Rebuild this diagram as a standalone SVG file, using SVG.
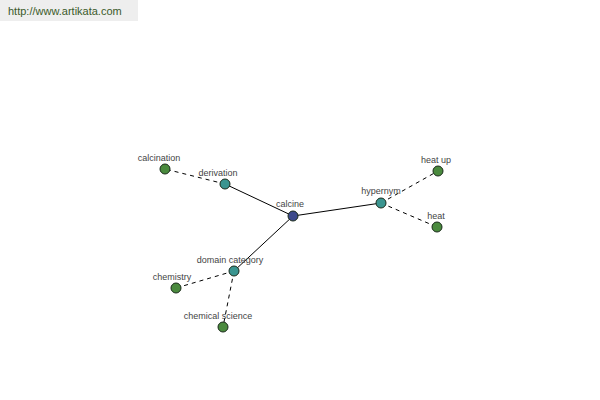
<svg xmlns="http://www.w3.org/2000/svg" width="600" height="400" viewBox="0 0 600 400">
<style>
.lbl{font-family:"Liberation Sans",Arial,sans-serif;font-size:9px;fill:#444;text-anchor:middle}
.solid{stroke:#000;stroke-width:1;fill:none}
.dash{stroke:#000;stroke-width:1;fill:none;stroke-dasharray:4,4}
.n circle{stroke:#1a2a1a;stroke-width:1}
.root{fill:#3d4a8c}
.mid{fill:#3a9590}
.leaf{fill:#4a8a3e}
</style>
<rect x="0" y="0" width="138" height="21" fill="#eeeeee"/>
<text x="8" y="15" font-family="'Liberation Sans',Arial,sans-serif" font-size="11" fill="#3a5a2a">http://www.artikata.com</text>
<g id="connectors">
<line class="solid" x1="293" y1="216" x2="225" y2="184"/>
<line class="solid" x1="293" y1="216" x2="381" y2="203"/>
<line class="solid" x1="293" y1="216" x2="234" y2="271"/>
<line class="dash" x1="225" y1="184" x2="165" y2="169"/>
<line class="dash" x1="381" y1="203" x2="438" y2="171"/>
<line class="dash" x1="381" y1="203" x2="437" y2="227"/>
<line class="dash" x1="234" y1="271" x2="176" y2="288"/>
<line class="dash" x1="234" y1="271" x2="223" y2="327"/>
</g>
<g id="calcine" class="n"><circle class="root" cx="293" cy="216" r="5"/><text class="lbl" x="290" y="207">calcine</text></g>
<g id="derivation" class="n"><circle class="mid" cx="225" cy="184" r="5"/><text class="lbl" x="218" y="176">derivation</text></g>
<g id="calcination" class="n"><circle class="leaf" cx="165" cy="169" r="5"/><text class="lbl" x="159" y="161">calcination</text></g>
<g id="hypernym" class="n"><circle class="mid" cx="381" cy="203" r="5"/><text class="lbl" x="381" y="194">hypernym</text></g>
<g id="heat_up" class="n"><circle class="leaf" cx="438" cy="171" r="5"/><text class="lbl" x="436" y="163">heat up</text></g>
<g id="heat" class="n"><circle class="leaf" cx="437" cy="227" r="5"/><text class="lbl" x="436" y="219">heat</text></g>
<g id="domain_category" class="n"><circle class="mid" cx="234" cy="271" r="5"/><text class="lbl" x="230" y="263">domain category</text></g>
<g id="chemistry" class="n"><circle class="leaf" cx="176" cy="288" r="5"/><text class="lbl" x="172" y="280">chemistry</text></g>
<g id="chemical_science" class="n"><circle class="leaf" cx="223" cy="327" r="5"/><text class="lbl" x="218" y="319">chemical science</text></g>
</svg>
